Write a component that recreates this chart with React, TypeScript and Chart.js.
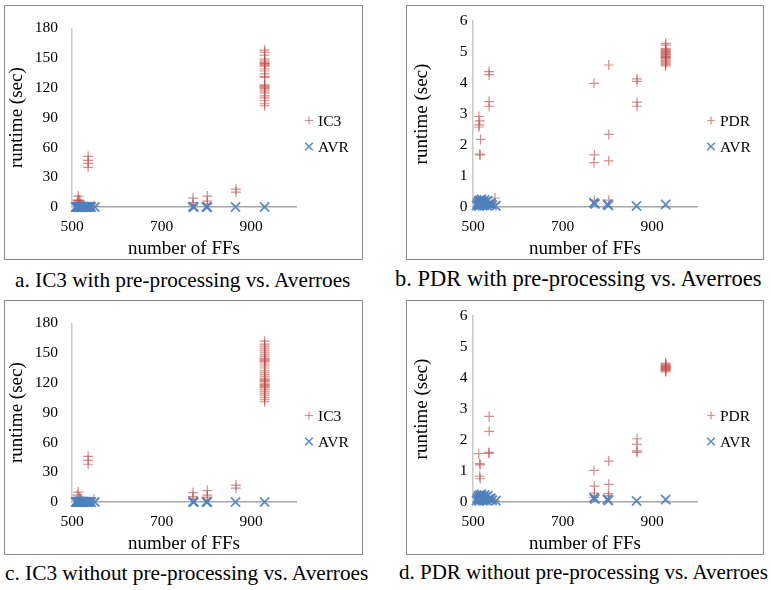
import React, { useEffect, useRef } from 'react';
import { Chart, registerables } from 'chart.js';

Chart.register(...registerables);

type Pt = [number, number];

// ---------- data ----------
const xTickValues = [500, 700, 900];

// Averroes (AVR) runtime, shared by all four panels: [number of FFs, runtime sec]
const avrPoints: Pt[] = [
  [508, 0.05], [510, 0.12], [511, 0.08], [512, 0.18], [513, 0.03], [514, 0.22], [515, 0.1],
  [516, 0.15], [517, 0.06], [518, 0.2], [519, 0.25], [520, 0.09], [521, 0.14], [522, 0.04],
  [523, 0.19], [524, 0.11], [525, 0.07], [526, 0.23], [527, 0.13], [529, 0.16], [531, 0.05],
  [533, 0.2], [535, 0.1], [537, 0.08], [540, 0.12], [543, 0.06], [551, 0.04],
  [770, 0.14], [772, 0.1], [800, 0.09], [802, 0.05], [865, 0.03], [930, 0.08],
];

// a. IC3 with pre-processing
const ic3PrePoints: Pt[] = [
  [514, 11], [512, 7], [514, 6.5], [516, 7], [518, 6], [520, 3], [516, 2],
  [536, 51], [536, 47], [536, 44], [536, 40],
  [549, 1],
  [770, 9], [770, 4.5], [770, 2],
  [802, 11], [802, 6], [802, 3],
  [866, 18], [866, 15],
  [930, 158], [930, 156], [930, 153], [930, 149], [930, 147], [930, 145], [930, 145],
  [930, 144], [930, 143], [930, 142], [930, 139], [930, 137], [930, 134], [930, 131],
  [930, 131], [930, 123], [930, 122], [930, 121], [930, 120], [930, 119], [930, 117],
  [930, 115], [930, 112], [930, 110], [930, 107], [930, 104], [930, 102],
];

// b. PDR with pre-processing
const pdrPrePoints: Pt[] = [
  [513, 2.92], [515, 2.78], [514, 2.65], [513, 2.58], [517, 2.18], [515, 1.71], [516, 1.68],
  [536, 4.37], [536, 4.27], [536, 3.4], [536, 3.25],
  [549, 0.29], [549, 0.12],
  [770, 3.99], [771, 1.68], [770, 1.43], [771, 0.22],
  [803, 4.58], [803, 2.34], [803, 1.49], [803, 0.22],
  [866, 4.13], [866, 4.05], [866, 3.38], [866, 3.25],
  [930, 5.28], [930, 5.22], [930, 5.12], [930, 5.08], [930, 5.05], [930, 5.02], [930, 5.0],
  [930, 4.98], [930, 4.95], [930, 4.92], [930, 4.9], [930, 4.87], [930, 4.85], [930, 4.82],
  [930, 4.8], [930, 4.77], [930, 4.72], [930, 4.68], [930, 4.64], [930, 4.6], [930, 4.55],
];

// c. IC3 without pre-processing
const ic3NoPrePoints: Pt[] = [
  [514, 10], [512, 7], [516, 5], [518, 4], [520, 3],
  [536, 46], [536, 42], [536, 38],
  [549, 3],
  [770, 9.5], [770, 5.5], [770, 3],
  [802, 11.5], [802, 7], [802, 5],
  [866, 17], [866, 14],
  [930, 162], [930, 159], [930, 157], [930, 155], [930, 153], [930, 151], [930, 149],
  [930, 147], [930, 145], [930, 144], [930, 143], [930, 142], [930, 141], [930, 139],
  [930, 137], [930, 135], [930, 132], [930, 130], [930, 128], [930, 126], [930, 124],
  [930, 123], [930, 122], [930, 121], [930, 119], [930, 118], [930, 117], [930, 116],
  [930, 115], [930, 113], [930, 111], [930, 109], [930, 107], [930, 105], [930, 103], [930, 101],
];

// d. PDR without pre-processing
const pdrNoPrePoints: Pt[] = [
  [513, 1.56], [515, 1.24], [516, 1.2], [515, 0.83], [516, 0.75],
  [536, 2.76], [536, 2.28], [536, 1.6], [535, 1.57],
  [549, 0.05],
  [770, 1.02], [771, 0.51], [771, 0.29], [770, 0.15],
  [803, 1.32], [803, 0.57], [802, 0.27], [803, 0.2],
  [866, 2.04], [866, 1.86], [866, 1.65], [866, 1.6],
  [930, 4.48], [930, 4.45], [930, 4.42], [930, 4.4], [930, 4.38], [930, 4.36], [930, 4.34],
  [930, 4.32], [930, 4.3], [930, 4.28], [930, 4.26], [930, 4.24], [930, 4.2],
];

const captions = [
  'a. IC3 with pre-processing vs. Averroes',
  'b. PDR with pre-processing vs. Averroes',
  'c. IC3 without pre-processing vs. Averroes',
  'd. PDR without pre-processing vs. Averroes',
];

// ---------- styles ----------
const FONT = '"Liberation Serif", "Times New Roman", Times, serif';
const RED = 'rgba(192, 80, 77, 0.65)';
const BLUE = 'rgba(79, 129, 189, 0.9)';

interface PanelSpec {
  left: number; top: number; width: number; height: number;
  series: string; points: Pt[]; yMax: number; yStep: number;
  tickPad: number; titlePad: number; yWidth: number;
  caption: string; capLeft: number; capTop: number; capSize: number;
}

const panels: PanelSpec[] = [
  { left: 4, top: 5, width: 359, height: 255, series: 'IC3', points: ic3PrePoints, yMax: 180, yStep: 30,
    tickPad: 14, titlePad: 1.5, yWidth: 68, caption: captions[0], capLeft: 15, capTop: 268, capSize: 21.25 },
  { left: 406, top: 5, width: 358, height: 255, series: 'PDR', points: pdrPrePoints, yMax: 6, yStep: 1,
    tickPad: 5.5, titlePad: 4.5, yWidth: 67, caption: captions[1], capLeft: 395, capTop: 267, capSize: 22.5 },
  { left: 4, top: 300, width: 359, height: 255, series: 'IC3', points: ic3NoPrePoints, yMax: 180, yStep: 30,
    tickPad: 14, titlePad: 1.5, yWidth: 68, caption: captions[2], capLeft: 5, capTop: 561, capSize: 21.3 },
  { left: 406, top: 300, width: 358, height: 255, series: 'PDR', points: pdrNoPrePoints, yMax: 6, yStep: 1,
    tickPad: 5.5, titlePad: 4.5, yWidth: 67, caption: captions[3], capLeft: 399, capTop: 560, capSize: 21 },
];

const sideLegend = {
  id: 'sideLegend',
  afterDraw(chart: any) {
    const ctx = chart.ctx as CanvasRenderingContext2D;
    const markerX = 305;
    const textX = 314;
    const ys = [115.5, 141.5];
    chart.data.datasets.forEach((ds: any, i: number) => {
      const cx = markerX;
      const cy = ys[i];
      ctx.save();
      ctx.strokeStyle = ds.borderColor;
      ctx.lineWidth = ds.pointStyle === 'cross' ? 1.2 : 1.6;
      ctx.beginPath();
      if (ds.pointStyle === 'cross') {
        const r = 4;
        ctx.moveTo(cx - r, cy); ctx.lineTo(cx + r, cy);
        ctx.moveTo(cx, cy - r); ctx.lineTo(cx, cy + r);
      } else {
        const d = 3.8;
        ctx.moveTo(cx - d, cy - d); ctx.lineTo(cx + d, cy + d);
        ctx.moveTo(cx + d, cy - d); ctx.lineTo(cx - d, cy + d);
      }
      ctx.stroke();
      ctx.fillStyle = '#000';
      ctx.font = `15.5px ${FONT}`;
      ctx.textBaseline = 'middle';
      ctx.textAlign = 'left';
      ctx.fillText(ds.label, textX, cy + 1);
      ctx.restore();
    });
  },
};

export default function App() {
  const refs = [useRef<HTMLCanvasElement>(null), useRef<HTMLCanvasElement>(null),
    useRef<HTMLCanvasElement>(null), useRef<HTMLCanvasElement>(null)];

  useEffect(() => {
    const charts: Chart[] = [];
    panels.forEach((p, idx) => {
      const canvas = refs[idx].current;
      if (!canvas) return;
      const plotRight = p.width === 359 ? 292 : 291;
      const chart = new Chart(canvas, {
        type: 'scatter',
        data: {
          datasets: [
            {
              label: p.series,
              data: p.points.map(([x, y]) => ({ x, y })),
              pointStyle: 'cross',
              pointRadius: 5,
              pointHoverRadius: 5,
              borderColor: RED,
              backgroundColor: RED,
              borderWidth: 1.2,
              order: 1,
              clip: false,
            } as any,
            {
              label: 'AVR',
              data: avrPoints.map(([x, y]) => ({ x, y })),
              pointStyle: 'crossRot',
              pointRadius: 6.5,
              pointHoverRadius: 6.5,
              borderColor: BLUE,
              backgroundColor: BLUE,
              borderWidth: 1.8,
              order: 0,
              clip: false,
            } as any,
          ],
        },
        options: {
          animation: false,
          responsive: false,
          events: [],
          layout: { padding: { left: 0, top: 16, right: p.width - plotRight, bottom: 0 } },
          plugins: { legend: { display: false }, tooltip: { enabled: false } },
          scales: {
            x: {
              type: 'linear',
              min: 500,
              max: 1000,
              afterBuildTicks: (s: any) => { s.ticks = xTickValues.map((value) => ({ value })); },
              afterFit: (s: any) => { s.height = 53; },
              grid: { display: false, drawTicks: false },
              border: { display: true, color: '#a6a6a6', width: 1.5 },
              ticks: { padding: 11, color: '#000', font: { family: FONT, size: 15.5 }, maxRotation: 0 },
              title: {
                display: true, text: 'number of FFs', color: '#000',
                font: { family: FONT, size: 19 }, padding: { top: 0, bottom: 0 },
              },
            },
            y: {
              type: 'linear',
              min: 0,
              max: p.yMax,
              afterFit: (s: any) => { s.width = p.yWidth; },
              grid: { display: false, drawTicks: false },
              border: { display: true, color: '#c8c8c8', width: 1.5 },
              ticks: { stepSize: p.yStep, padding: p.tickPad, color: '#000', font: { family: FONT, size: 15.5 } },
              title: {
                display: true, text: 'runtime (sec)', color: '#000',
                font: { family: FONT, size: 19 }, padding: { top: p.titlePad, bottom: 0 },
              },
            },
          },
        } as any,
        plugins: [sideLegend],
      });
      charts.push(chart);
    });
    return () => { charts.forEach((c) => c.destroy()); };
  }, []);

  return (
    <div style={{ position: 'absolute', left: 0, top: 0, width: 771, height: 590, background: '#fff', overflow: 'hidden' }}>
      {panels.map((p, idx) => (
        <React.Fragment key={idx}>
          <div
            style={{
              position: 'absolute', left: p.left, top: p.top, width: p.width, height: p.height,
              boxSizing: 'border-box', border: '1px solid #8c8c8c',
            }}
          />
          <canvas
            ref={refs[idx]}
            width={p.width}
            height={p.height}
            style={{ position: 'absolute', left: p.left, top: p.top, width: p.width, height: p.height }}
          />
          <div
            style={{
              position: 'absolute', left: p.capLeft, top: p.capTop, whiteSpace: 'nowrap',
              fontFamily: FONT, fontSize: p.capSize, lineHeight: '24px', color: '#000',
            }}
          >
            {p.caption}
          </div>
        </React.Fragment>
      ))}
    </div>
  );
}
